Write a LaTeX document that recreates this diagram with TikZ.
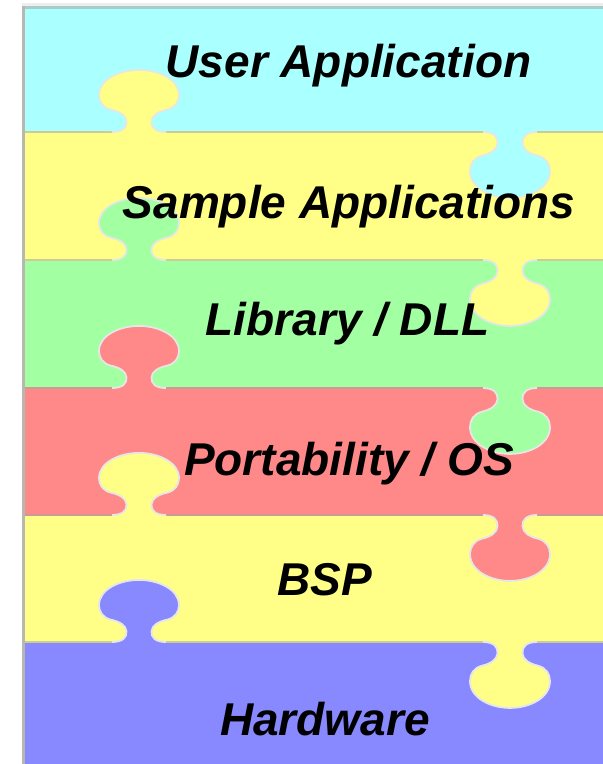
\documentclass[tikz,border=0pt]{standalone}
\usepackage{fontspec}
\newfontfamily\labfont{Liberation Sans}
\definecolor{bandcyan}{HTML}{AAFFFF}
\definecolor{bandyellow}{HTML}{FFFF88}
\definecolor{bandgreen}{HTML}{A2FFA2}
\definecolor{bandred}{HTML}{FF8888}
\definecolor{bandblue}{HTML}{8888FF}
\definecolor{seamtan}{HTML}{CCCC99}
\definecolor{seamrose}{HTML}{CC9999}
\definecolor{framegrey}{HTML}{B8B8B0}
\definecolor{topgrey}{HTML}{EEEEEE}
\definecolor{topline}{HTML}{A8CCCC}
\definecolor{tabedgecol}{HTML}{E6E6E6}
\newcommand\jigtab[4]{%
  \begin{scope}[shift={(#1,#2)},yscale=#3]
    \fill[#4] (-27,-3) -- (-27,0) .. controls (-16,0) and (-12,5) .. (-12.5,11)
      .. controls (-13,17) and (-19,21) .. (-28,23)
      .. controls (-36,25) and (-40,31) .. (-40,38)
      .. controls (-40,54) and (-20,64) .. (0,64)
      .. controls (20,64) and (40,54) .. (40,38)
      .. controls (40,31) and (36,25) .. (28,23)
      .. controls (19,21) and (13,17) .. (12.5,11)
      .. controls (12,5) and (16,0) .. (27,0) -- (27,-3) -- cycle;
    \draw[tabedge] (-27,0) .. controls (-16,0) and (-12,5) .. (-12.5,11)
      .. controls (-13,17) and (-19,21) .. (-28,23)
      .. controls (-36,25) and (-40,31) .. (-40,38)
      .. controls (-40,54) and (-20,64) .. (0,64)
      .. controls (20,64) and (40,54) .. (40,38)
      .. controls (40,31) and (36,25) .. (28,23)
      .. controls (19,21) and (13,17) .. (12.5,11)
      .. controls (12,5) and (16,0) .. (27,0);
  \end{scope}}
\begin{document}
\begin{tikzpicture}[x=1pt,y=-1pt,
  tabedge/.style={draw=tabedgecol,line width=1.8pt},
  seam/.style={line width=2.2pt},
  lab/.style={font=\labfont\bfseries\itshape\fontsize{46}{50}\selectfont,anchor=base,inner sep=0pt,text=black}]
\useasboundingbox (0,0) rectangle (603,764);
\fill[white] (0,0) rectangle (603,764);
\fill[topgrey] (22,3) rectangle (603,7);
% bands
\fill[bandcyan] (22,7) rectangle (603,132);
\fill[bandyellow] (22,132) rectangle (603,260);
\fill[bandgreen] (22,260) rectangle (603,388);
\fill[bandred] (22,388) rectangle (603,515);
\fill[bandyellow] (22,515) rectangle (603,642);
\fill[bandblue] (22,642) rectangle (603,764);
% seams
\draw[seam,seamtan] (22,132) -- (603,132);
\draw[seam,seamtan] (22,260) -- (603,260);
\draw[seam,seamrose] (22,388) -- (603,388);
\draw[seam,seamrose] (22,515) -- (603,515);
\draw[seam,seamtan] (22,642) -- (603,642);
% frame
\draw[topline,line width=2.5pt] (22,7.5) -- (603,7.5);
\draw[framegrey,line width=3pt] (23.5,6) -- (23.5,764);
% left tabs (pointing up, colour of lower band)
\jigtab{139}{132}{-0.97}{bandyellow}
\jigtab{139}{260}{-0.97}{bandgreen}
\jigtab{139}{388}{-0.97}{bandred}
\jigtab{139}{515}{-0.97}{bandyellow}
\jigtab{139}{642}{-0.97}{bandblue}
% right tabs (pointing down, colour of upper band)
\jigtab{510}{132}{1.03}{bandcyan}
\jigtab{510}{260}{1.03}{bandyellow}
\jigtab{510}{388}{1.03}{bandgreen}
\jigtab{510}{515}{1.03}{bandred}
\jigtab{510}{642}{1.03}{bandyellow}
% labels
\node[lab] (t1) at (348.5,77) {User Application};
\node[lab] (t2) at (349,218) {Sample Applications};
\node[lab] (t3) at (347.5,335) {Library / DLL};
\node[lab] (t4) at (349,475) {Portability / OS};
\node[lab] (t5) at (325,595) {BSP};
\node[lab] (t6) at (325,735) {Hardware};
\end{tikzpicture}
\end{document}
